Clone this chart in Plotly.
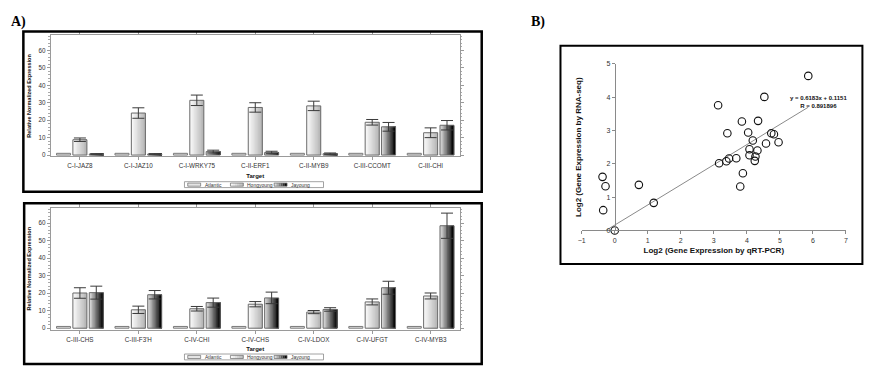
import plotly.graph_objects as go

W, H = 880, 384

# ---------------- data ----------------
top_targets = ["C-I-JAZ8", "C-I-JAZ10", "C-I-WRKY75", "C-II-ERF1", "C-II-MYB9", "C-III-CCOMT", "C-III-CHI"]
top_atlantic = [1, 1, 1, 1, 1, 1, 1]
top_hongyoung = [8.8, 24.1, 31.4, 27.3, 28.2, 18.8, 12.8]
top_hongyoung_err = [1.0, 3.0, 3.0, 2.7, 2.7, 1.6, 2.8]
top_jayoung = [0.6, 0.6, 2.0, 1.5, 0.8, 16.2, 17.1]
top_jayoung_err = [0.2, 0.2, 0.8, 0.7, 0.4, 2.5, 2.7]

bot_targets = ["C-III-CHS", "C-III-F3'H", "C-IV-CHI", "C-IV-CHS", "C-IV-LDOX", "C-IV-UFGT", "C-IV-MYB3"]
bot_atlantic = [1, 1, 1, 1, 1, 1, 1]
bot_hongyoung = [20.1, 10.5, 11.1, 13.7, 9.2, 15.0, 18.4]
bot_hongyoung_err = [3.0, 2.1, 1.3, 1.5, 0.9, 1.7, 1.7]
bot_jayoung = [20.3, 19.1, 14.6, 17.3, 10.7, 23.1, 58.5]
bot_jayoung_err = [3.7, 2.4, 2.6, 3.3, 1.0, 3.7, 7.2]

series_names = ["Atlantic", "Hongyoung", "Jayoung"]

qrt_pcr = [5.86, 4.53, 3.13, 3.85, 4.34, 3.41, 4.04, 4.74, 4.82, 4.18, 4.96, 4.58, 4.08, 4.32,
           4.08, 4.26, 4.24, 3.46, 3.68, 3.38, 3.16, 3.88, 3.80,
           -0.37, -0.28, -0.35, 0.0, 0.73, 1.18]
rna_seq = [4.64, 4.01, 3.76, 3.27, 3.29, 2.92, 2.94, 2.92, 2.89, 2.70, 2.65, 2.61, 2.44, 2.40,
           2.26, 2.22, 2.09, 2.16, 2.17, 2.08, 2.02, 1.72, 1.32,
           1.61, 1.33, 0.61, 0.0, 1.37, 0.83]
trend_x = [-0.32, 5.86]
trend_y = [-0.03, 3.70]
equation_text = "y = 0.6183x + 0.1151<br>R = 0.891896"

# ---------------- helpers ----------------
def fx(px):
    return px / W

def fy(py):
    return 1 - py / H

def hex2rgb(h):
    h = h.lstrip("#")
    return tuple(int(h[i:i + 2], 16) for i in (0, 2, 4))

def mix(c1, c2, t):
    a, b = hex2rgb(c1), hex2rgb(c2)
    return "rgb(%d,%d,%d)" % tuple(round(a[i] + (b[i] - a[i]) * t) for i in range(3))

FONT = "Liberation Sans, Arial, sans-serif"
BAR_W = 0.24
N_SLICES = 10
series_style = {
    "Atlantic": dict(center=-0.28, c0="#ffffff", c1="#e4e4e4"),
    "Hongyoung": dict(center=0.0, c0="#f8f8f8", c1="#b8b8b8"),
    "Jayoung": dict(center=0.28, c0="#dadada", c1="#080808"),
}

fig = go.Figure()

def add_panel(targets, data, xa, ya):
    for name, (vals, errs) in data.items():
        st = series_style[name]
        left = st["center"] - BAR_W / 2
        if errs is None:
            fig.add_trace(go.Bar(
                x=targets, y=vals, name=name, xaxis=xa, yaxis=ya,
                offset=left, width=BAR_W,
                marker=dict(color=st["c1"], line=dict(color="#7a7a7a", width=1)),
            ))
            continue
        step = BAR_W / N_SLICES
        for k in range(N_SLICES):
            t = k / (N_SLICES - 1)
            fig.add_trace(go.Bar(
                x=targets, y=vals, name=name, xaxis=xa, yaxis=ya,
                offset=left + k * step, width=BAR_W - k * step,
                marker=dict(color=mix(st["c0"], st["c1"], t), line=dict(width=0)),
            ))
        fig.add_trace(go.Bar(
            x=targets, y=vals, name=name, xaxis=xa, yaxis=ya,
            offset=left, width=BAR_W,
            marker=dict(color="rgba(0,0,0,0)", line=dict(color="#6a6a6a", width=1)),
            error_y=dict(type="data", array=errs, visible=True, color="#3a3a3a", thickness=1, width=6),
        ))

add_panel(top_targets, {"Atlantic": (top_atlantic, None),
                        "Hongyoung": (top_hongyoung, top_hongyoung_err),
                        "Jayoung": (top_jayoung, top_jayoung_err)}, "x", "y")
add_panel(bot_targets, {"Atlantic": (bot_atlantic, None),
                        "Hongyoung": (bot_hongyoung, bot_hongyoung_err),
                        "Jayoung": (bot_jayoung, bot_jayoung_err)}, "x2", "y2")

# scatter panel B
fig.add_trace(go.Scatter(
    x=trend_x, y=trend_y, mode="lines", xaxis="x3", yaxis="y3",
    line=dict(color="#8a8a8a", width=1), cliponaxis=False,
))
fig.add_trace(go.Scatter(
    x=qrt_pcr, y=rna_seq, mode="markers", xaxis="x3", yaxis="y3",
    marker=dict(symbol="circle-open", size=7.5, color="#111111", line=dict(width=1.1)),
    cliponaxis=False,
))

# ---------------- axes ----------------
tickfont = dict(family=FONT, size=6.3, color="#333333")
titlefont = dict(family=FONT, size=6, color="#111111", weight="bold")

def cat_axis(anchor, title):
    return dict(
        domain=[fx(47), fx(459)], anchor=anchor, type="category", range=[-0.5, 6.5],
        showline=True, linecolor="#9a9a9a", linewidth=1, mirror="ticks",
        ticks="outside", ticklen=3, tickcolor="#9a9a9a", tickfont=tickfont,
        showgrid=False, zeroline=False,
        title=dict(text=title, font=titlefont, standoff=5),
    )

def val_axis(domain, rng, anchor):
    return dict(
        domain=domain, anchor=anchor, range=rng, dtick=10, tick0=0,
        showline=True, linecolor="#9a9a9a", linewidth=1, mirror="ticks",
        ticks="outside", ticklen=3, tickcolor="#9a9a9a", tickfont=tickfont,
        minor=dict(dtick=2, ticklen=1.5, tickcolor="#aaaaaa", ticks="outside"),
        showgrid=False, zeroline=False,
        title=dict(text="Relative Normalized Expression",
                   font=dict(family=FONT, size=5.5, color="#111111", weight="bold"), standoff=6),
    )

x3_range = [-1, 7]
x3_dom = [fx(581.7), fx(847.7)]
y3_range = [0, 5]
y3_dom = [fy(230.7), fy(61)]
y3_pos = x3_dom[0] + (0 - x3_range[0]) / (x3_range[1] - x3_range[0]) * (x3_dom[1] - x3_dom[0])

fig.update_layout(
    width=W, height=H, margin=dict(l=0, r=0, t=0, b=0),
    paper_bgcolor="white", plot_bgcolor="white",
    barmode="overlay", showlegend=False, hovermode=False,
    font=dict(family=FONT, color="#222222"),
    xaxis=cat_axis("y", "Target"),
    yaxis=val_axis([fy(155.3), fy(32)], [-0.8, 68.6], "x"),
    xaxis2=cat_axis("y2", "Target"),
    yaxis2=val_axis([fy(332), fy(207.3)], [-1.0, 68.9], "x2"),
    xaxis3=dict(
        domain=x3_dom, anchor="y3", range=x3_range, dtick=1,
        showline=True, linecolor="#8a8a8a", linewidth=1, ticks="outside", ticklen=3, tickcolor="#8a8a8a",
        tickfont=dict(family=FONT, size=7, color="#333333"), showgrid=False, zeroline=False,
        title=dict(text="Log2 (Gene Expression by qRT-PCR)",
                   font=dict(family=FONT, size=8, color="#111111", weight="bold"), standoff=4),
    ),
    yaxis3=dict(
        domain=y3_dom, anchor="free", position=y3_pos, range=y3_range, dtick=1,
        showline=True, linecolor="#8a8a8a", linewidth=1, ticks="outside", ticklen=3, tickcolor="#8a8a8a",
        tickfont=dict(family=FONT, size=7, color="#333333"), showgrid=False, zeroline=False,
        title=dict(text="Log2 (Gene Expression by RNA-seq)",
                   font=dict(family=FONT, size=8, color="#111111", weight="bold"), standoff=22),
    ),
)

# panel frames
frames = [(19.5, 28, 481, 191.3, 2.5), (20.3, 203, 481, 366.7, 2.5), (560.3, 42.5, 864.3, 264.8, 2)]
for x0, y0, x1, y1, lw in frames:
    fig.add_shape(type="rect", xref="paper", yref="paper", x0=fx(x0), y0=fy(y0), x1=fx(x1), y1=fy(y1),
                  line=dict(color="black", width=lw), fillcolor="rgba(0,0,0,0)", layer="above")

# compact legends (one per bar panel), in the style of the original
legend_layout = [  # swatch left, swatch right, text left
    (185, 198, 201),
    (228, 241, 244),
    (272, 285, 288),
]

def add_legend(cy):
    fig.add_shape(type="rect", xref="paper", yref="paper", x0=fx(181.7), x1=fx(321.7),
                  y0=fy(cy - 3), y1=fy(cy + 3), line=dict(color="#8a8a8a", width=0.8), fillcolor="white")
    for name, (sx0, sx1, tx) in zip(series_names, legend_layout):
        st = series_style[name]
        n = 6 if name != "Atlantic" else 1
        step = (sx1 - sx0) / n
        for k in range(n):
            t = k / (n - 1) if n > 1 else 1
            fig.add_shape(type="rect", xref="paper", yref="paper",
                          x0=fx(sx0 + k * step), x1=fx(sx0 + (k + 1) * step),
                          y0=fy(cy - 1.6), y1=fy(cy + 1.6),
                          line=dict(width=0), fillcolor=mix(st["c0"], st["c1"], t))
        fig.add_shape(type="rect", xref="paper", yref="paper", x0=fx(sx0), x1=fx(sx1),
                      y0=fy(cy - 1.6), y1=fy(cy + 1.6), line=dict(color="#6a6a6a", width=0.7),
                      fillcolor="rgba(0,0,0,0)")
        fig.add_annotation(text=name, xref="paper", yref="paper", x=fx(tx), y=fy(cy),
                           xanchor="left", yanchor="middle", showarrow=False, borderpad=0,
                           font=dict(family=FONT, size=5, color="#333333"))

add_legend(184)
add_legend(359.5)

fig.add_annotation(text="<b>A)</b>", xref="paper", yref="paper", x=fx(5), y=fy(18), xanchor="left", yanchor="middle",
                   showarrow=False, font=dict(family="Liberation Serif, Times New Roman, serif", size=14, color="black"))
fig.add_annotation(text="<b>B)</b>", xref="paper", yref="paper", x=fx(529), y=fy(18), xanchor="left", yanchor="middle",
                   showarrow=False, font=dict(family="Liberation Serif, Times New Roman, serif", size=14, color="black"))
fig.add_annotation(text=equation_text, xref="x3", yref="y3", x=6.17, y=3.86, xanchor="center", yanchor="middle",
                   showarrow=False, align="center",
                   font=dict(family=FONT, size=6, color="#111111", weight="bold"))

fig.write_html("out.html", config={"displayModeBar": False},
               post_script="document.body.style.margin='0';")
